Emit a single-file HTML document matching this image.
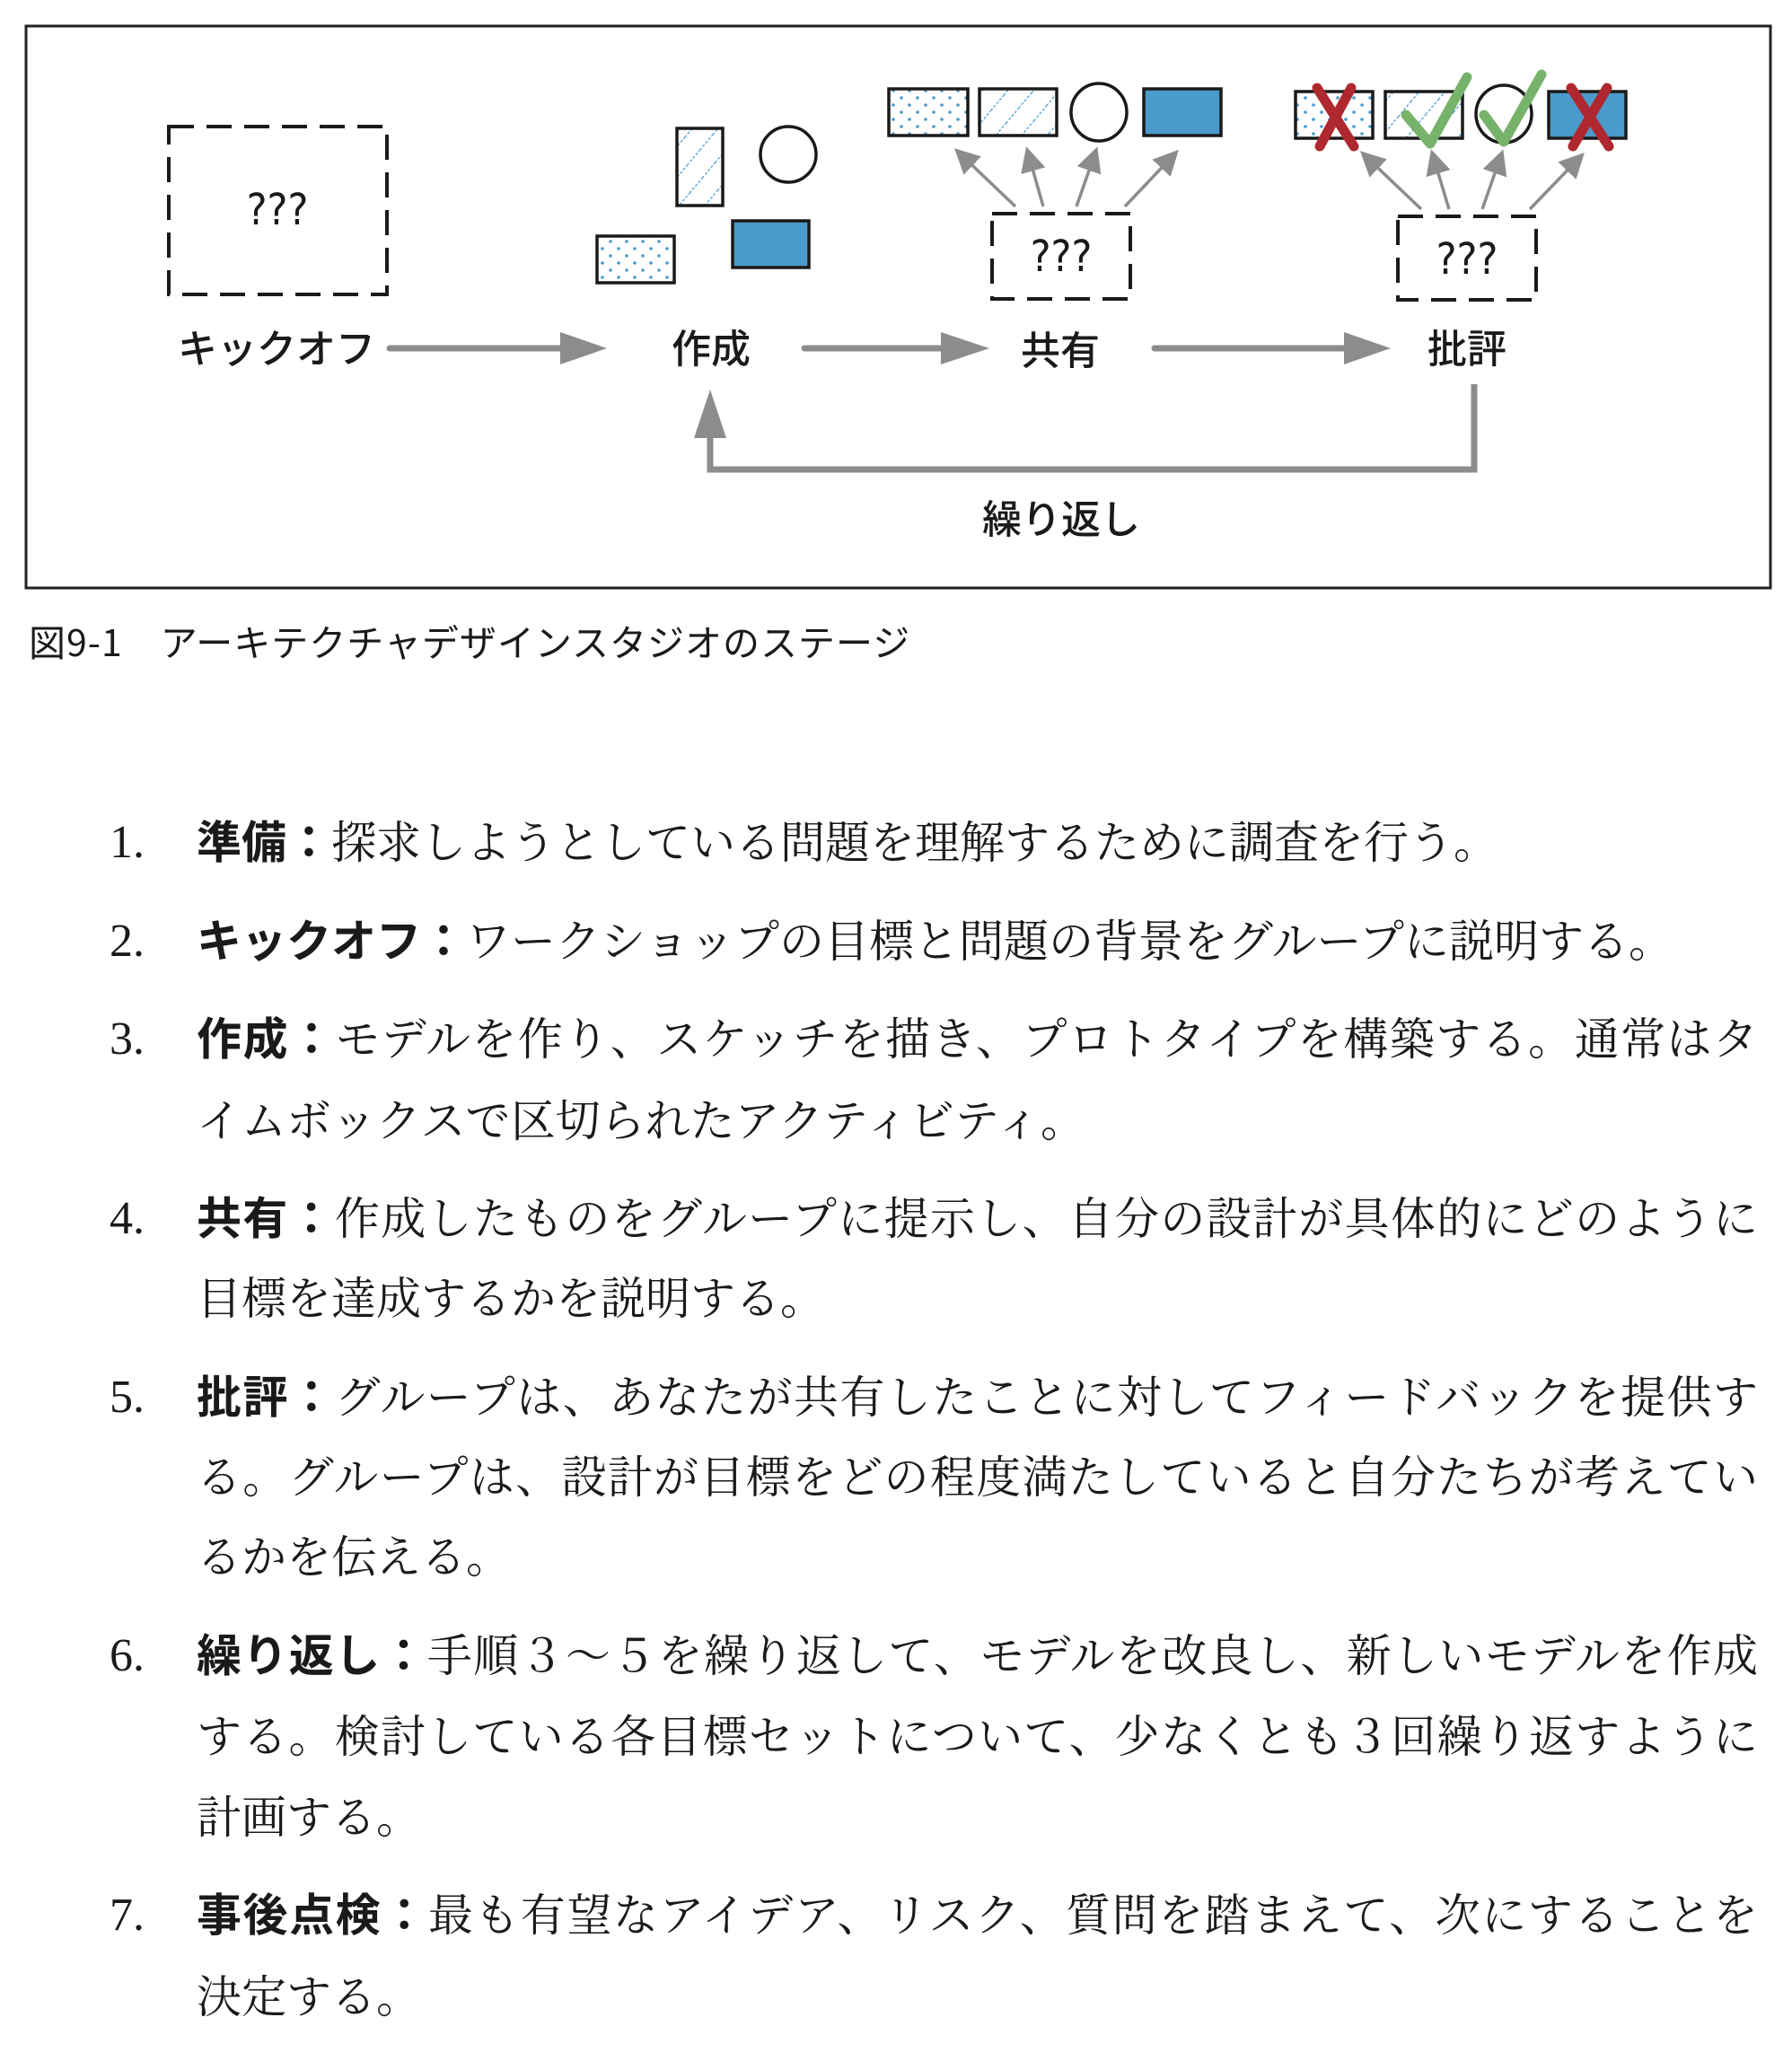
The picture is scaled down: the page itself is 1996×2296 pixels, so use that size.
<!DOCTYPE html>
<html><head><meta charset="utf-8"><style>
body{margin:0;background:#fff;width:1996px;height:2296px;position:relative;overflow:hidden}
.t{position:absolute;left:219px;width:1739px;font-family:"Liberation Serif","Noto Serif CJK JP","Noto Serif CJK SC",serif;font-size:50px;line-height:60px;color:#1a1a1a;white-space:nowrap}
.j{text-align:justify;text-align-last:justify}
.n{position:absolute;left:122px;font-family:"Liberation Serif","Noto Serif CJK SC",serif;font-size:52px;line-height:60px;color:#1a1a1a}
b{font-family:"Liberation Sans","Noto Sans CJK JP",sans-serif;font-weight:bold}
</style></head><body>
<svg width="1996" height="760" style="position:absolute;left:0;top:0" font-family="'Liberation Sans','Noto Sans CJK JP',sans-serif">
<defs>
<pattern id="dots" width="18" height="16" patternUnits="userSpaceOnUse"><circle cx="5" cy="5" r="1.8" fill="#4a9acb"/><circle cx="14" cy="13" r="1.8" fill="#4a9acb"/></pattern>
<pattern id="hatch" width="22" height="22" patternUnits="userSpaceOnUse" patternTransform="rotate(40)"><line x1="0" y1="0" x2="0" y2="22" stroke="#4a9acb" stroke-width="2.5" stroke-dasharray="3 2"/></pattern>
<marker id="ah" markerWidth="8" markerHeight="8" refX="6" refY="4" orient="auto" markerUnits="strokeWidth"><path d="M0,0 L8,4 L0,8 z" fill="#8c8c8c"/></marker>
</defs>
<rect x="29" y="29" width="1943" height="626" fill="none" stroke="#222" stroke-width="3"/>
<g fill="none" stroke="#1a1a1a" stroke-width="4" stroke-dasharray="28 14">
<rect x="188" y="141" width="243" height="187"/>
<rect x="1105" y="238" width="154" height="95"/>
<rect x="1557" y="241" width="154" height="93"/>
</g>
<g font-size="48" text-anchor="middle" fill="#1a1a1a" font-family="'DejaVu Sans Condensed','Liberation Sans Narrow',sans-serif">
<text x="309" y="250">???</text>
<text x="1182" y="302">???</text>
<text x="1634" y="305">???</text>
</g>
<g font-size="44" fill="#1a1a1a" font-family="'Noto Sans CJK JP',sans-serif" font-weight="500" text-anchor="middle">
<text x="308" y="404">キックオフ</text>
<text x="792" y="404">作成</text>
<text x="1181" y="406">共有</text>
<text x="1634" y="404">批評</text>
<text x="1182" y="594">繰り返し</text>
</g>
<g stroke="#8c8c8c" stroke-width="7" fill="none" stroke-linecap="round">
<line x1="434" y1="388" x2="626" y2="388"/>
<line x1="896" y1="388" x2="1050" y2="388"/>
<line x1="1286" y1="388" x2="1499" y2="388"/>
<polyline points="1642,428 1642,523 791,523 791,486" stroke-linecap="butt"/>
</g>
<g fill="#8c8c8c">
<polygon points="624,370 624,406 676,388"/>
<polygon points="1048,370 1048,406 1102,388"/>
<polygon points="1497,370 1497,406 1549,388"/>
<polygon points="773,488 809,488 791,434"/>
</g>
<g stroke="#1a1a1a" stroke-width="3.5">
<rect x="754" y="143" width="51" height="86" fill="url(#hatch)"/>
<ellipse cx="878" cy="172" rx="31" ry="31" fill="#fff"/>
<rect x="816" y="246" width="85" height="52" fill="#4a9acb"/>
<rect x="665" y="263" width="86" height="52" fill="url(#dots)"/>
<rect x="990" y="99" width="88" height="52" fill="url(#dots)"/>
<rect x="1091" y="99" width="86" height="52" fill="url(#hatch)"/>
<ellipse cx="1224" cy="125" rx="31" ry="32" fill="#fff"/>
<rect x="1274" y="99" width="86" height="52" fill="#4a9acb"/>
<rect x="1443" y="102" width="86" height="52" fill="url(#dots)"/>
<rect x="1543" y="102" width="86" height="52" fill="url(#hatch)"/>
<ellipse cx="1675" cy="127" rx="31" ry="32" fill="#fff"/>
<rect x="1725" y="102" width="86" height="52" fill="#4a9acb"/>
</g>
<g stroke="#8c8c8c" stroke-width="3.5" fill="none" marker-end="url(#ah)">
<line x1="1131" y1="230" x2="1068" y2="170"/>
<line x1="1162" y1="230" x2="1145" y2="170"/>
<line x1="1199" y1="230" x2="1220" y2="170"/>
<line x1="1253" y1="230" x2="1308" y2="172"/>
<line x1="1583" y1="233" x2="1520" y2="173"/>
<line x1="1614" y1="233" x2="1596" y2="173"/>
<line x1="1651" y1="233" x2="1672" y2="173"/>
<line x1="1704" y1="233" x2="1760" y2="175"/>
</g>
<g stroke="#b0282f" stroke-width="11" stroke-linecap="round" fill="none">
<line x1="1467" y1="98" x2="1508" y2="163"/><line x1="1505" y1="98" x2="1470" y2="163"/>
<line x1="1750" y1="98" x2="1792" y2="163"/><line x1="1790" y1="98" x2="1752" y2="163"/>
</g>
<g stroke="#77b26a" stroke-width="11" stroke-linecap="round" stroke-linejoin="round" fill="none">
<polyline points="1566,128 1593,160 1634,86"/>
<polyline points="1653,128 1675,158 1717,83"/>
</g>
<text x="32" y="731" font-size="41" fill="#1a1a1a" font-family="'Noto Sans CJK JP',sans-serif" letter-spacing="1">図9-1　アーキテクチャデザインスタジオのステージ</text>
</svg>

<div class="n" style="top:909px">1.</div>
<div class="t" style="top:909px"><b>準備：</b>探求しようとしている問題を理解するために調査を行う。</div>
<div class="n" style="top:1019px">2.</div>
<div class="t" style="top:1019px"><b>キックオフ：</b>ワークショップの目標と問題の背景をグループに説明する。</div>
<div class="n" style="top:1128px">3.</div>
<div class="t j" style="top:1128px"><b>作成：</b>モデルを作り、スケッチを描き、プロトタイプを構築する。通常はタ</div>
<div class="t" style="top:1219px">イムボックスで区切られたアクティビティ。</div>
<div class="n" style="top:1328px">4.</div>
<div class="t j" style="top:1328px"><b>共有：</b>作成したものをグループに提示し、自分の設計が具体的にどのように</div>
<div class="t" style="top:1417px">目標を達成するかを説明する。</div>
<div class="n" style="top:1527px">5.</div>
<div class="t j" style="top:1527px"><b>批評：</b>グループは、あなたが共有したことに対してフィードバックを提供す</div>
<div class="t j" style="top:1616px">る。グループは、設計が目標をどの程度満たしていると自分たちが考えてい</div>
<div class="t" style="top:1705px">るかを伝える。</div>
<div class="n" style="top:1815px">6.</div>
<div class="t j" style="top:1815px"><b>繰り返し：</b>手順３～５を繰り返して、モデルを改良し、新しいモデルを作成</div>
<div class="t j" style="top:1905px">する。検討している各目標セットについて、少なくとも３回繰り返すように</div>
<div class="t" style="top:1995px">計画する。</div>
<div class="n" style="top:2104px">7.</div>
<div class="t j" style="top:2104px"><b>事後点検：</b>最も有望なアイデア、リスク、質問を踏まえて、次にすることを</div>
<div class="t" style="top:2195px">決定する。</div>
</body></html>
